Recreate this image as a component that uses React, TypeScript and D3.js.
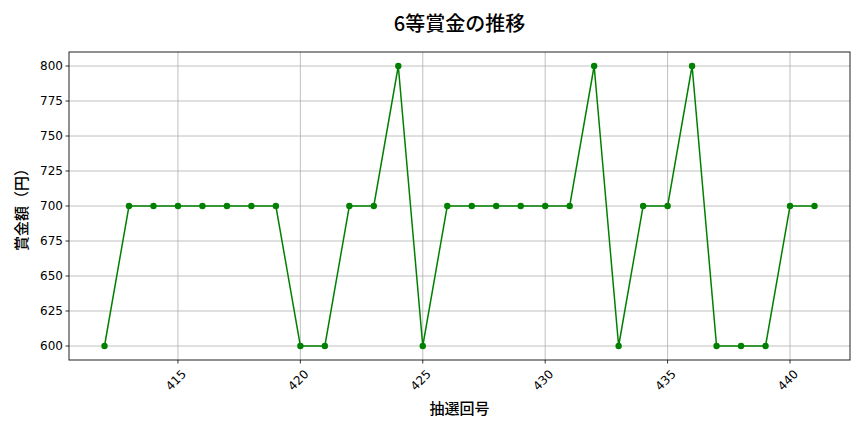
import React from "react";
import * as d3 from "d3";

const draws = [412, 413, 414, 415, 416, 417, 418, 419, 420, 421, 422, 423, 424, 425, 426, 427, 428, 429, 430, 431, 432, 433, 434, 435, 436, 437, 438, 439, 440, 441];
const prizes = [600, 700, 700, 700, 700, 700, 700, 700, 600, 600, 700, 700, 800, 600, 700, 700, 700, 700, 700, 700, 800, 600, 700, 700, 800, 600, 600, 600, 700, 700];
const xTicks = [415, 420, 425, 430, 435, 440];
const yTicks = [600, 625, 650, 675, 700, 725, 750, 775, 800];

const width = 864;
const height = 432;
const marginLeft = 69;
const marginRight = 14;
const marginTop = 52;
const marginBottom = 72;
const font = "'Noto Sans CJK JP', 'DejaVu Sans', sans-serif";

export default function App() {
  const x = d3.scaleLinear().domain([410.55, 442.45]).range([marginLeft, width - marginRight]);
  const y = d3.scaleLinear().domain([590, 810]).range([height - marginBottom, marginTop]);
  const pts = draws.map((d, i) => [d, prizes[i]] as [number, number]);
  const line = d3.line<[number, number]>().x((d) => x(d[0])).y((d) => y(d[1]));
  const bottom = height - marginBottom;

  return (
    <svg width={width} height={height} style={{ position: "absolute", left: 0, top: 0, background: "#fff" }} fontFamily={font}>
      <text x={(marginLeft + width - marginRight) / 2} y={31} textAnchor="middle" fontSize={20} fontWeight={500}>6等賞金の推移</text>
      {/* grid */}
      {xTicks.map((t) => (
        <line key={"gx" + t} x1={x(t)} x2={x(t)} y1={marginTop} y2={bottom} stroke="#b0b0b0" strokeWidth={0.8} />
      ))}
      {yTicks.map((t) => (
        <line key={"gy" + t} x1={marginLeft} x2={width - marginRight} y1={y(t)} y2={y(t)} stroke="#b0b0b0" strokeWidth={0.8} />
      ))}
      {/* series */}
      <path d={line(pts) ?? ""} fill="none" stroke="green" strokeWidth={1.5} />
      {pts.map((d, i) => (
        <circle key={i} cx={x(d[0])} cy={y(d[1])} r={3.2} fill="green" />
      ))}
      <rect x={marginLeft} y={marginTop} width={width - marginLeft - marginRight} height={bottom - marginTop} fill="none" stroke="#222" strokeWidth={1} />
      {/* x axis */}
      {xTicks.map((t) => (
        <g key={"xt" + t} transform={`translate(${x(t)},${bottom})`}>
          <line y2={3.5} stroke="#000" strokeWidth={0.8} />
          <text transform="translate(3,9) rotate(-45)" textAnchor="end" dy="0.7em" fontSize={12} fontFamily="'DejaVu Sans', sans-serif">{t}</text>
        </g>
      ))}
      {/* y axis */}
      {yTicks.map((t) => (
        <g key={"yt" + t} transform={`translate(${marginLeft},${y(t)})`}>
          <line x2={-3.5} stroke="#000" strokeWidth={0.8} />
          <text x={-6} dy="0.35em" textAnchor="end" fontSize={12} fontFamily="'DejaVu Sans', sans-serif">{t}</text>
        </g>
      ))}
      <text x={(marginLeft + width - marginRight) / 2} y={414} textAnchor="middle" fontSize={15} fontWeight={500}>抽選回号</text>
      <text transform={`translate(27,${(marginTop + bottom) / 2}) rotate(-90)`} textAnchor="middle" fontSize={15} fontWeight={500}>賞金額（円）</text>
    </svg>
  );
}
